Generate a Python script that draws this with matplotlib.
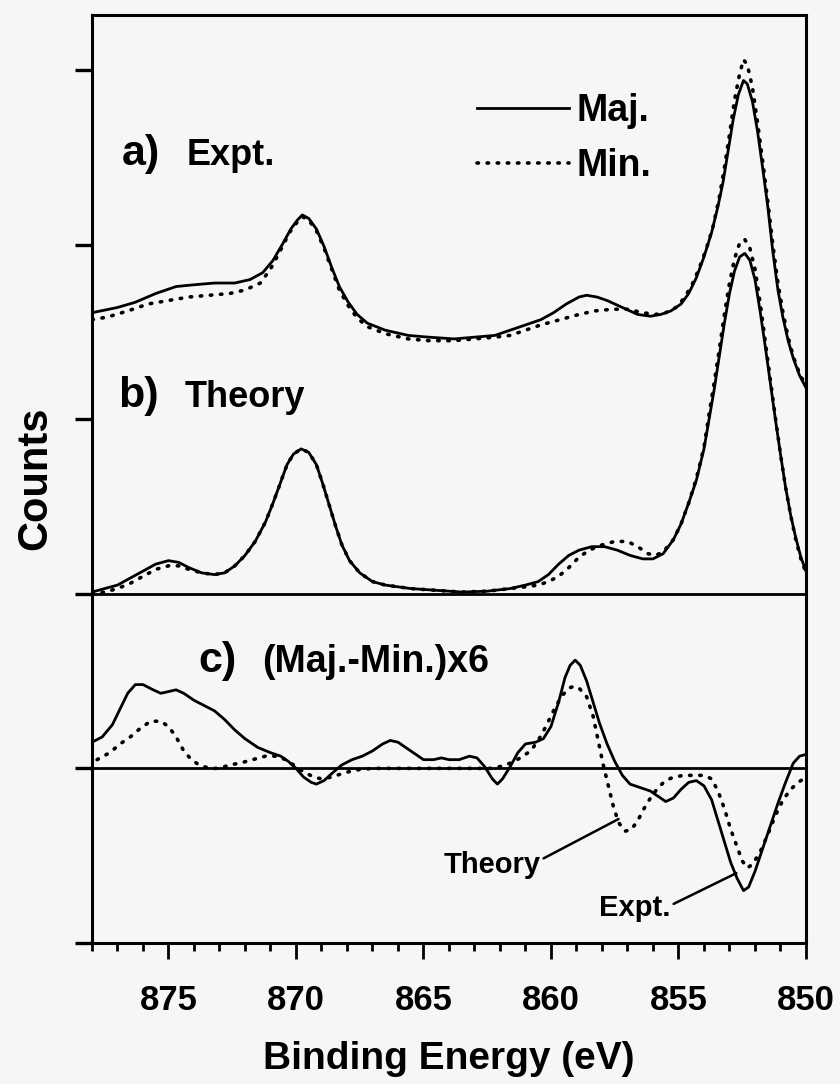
import matplotlib.pyplot as plt
from matplotlib.ticker import MultipleLocator

plt.rcParams['font.family'] = ['Liberation Sans', 'DejaVu Sans']
plt.rcParams['font.weight'] = 'bold'

# a) Expt. -- majority (solid) and minority (dotted) spectra
a_maj_e = [878.0, 877.0, 876.3, 875.5, 874.7, 874.0, 873.2, 872.4, 871.8, 871.3, 870.9, 870.5, 870.2,
           869.95, 869.75, 869.5, 869.2, 868.9, 868.6, 868.3, 867.95, 867.6, 867.2, 866.5, 865.6, 864.8,
           863.8, 863.0, 862.2, 861.6, 861.0, 860.4, 859.9, 859.4, 858.9, 858.6, 858.2, 857.8, 857.2,
           856.6, 856.1, 855.7, 855.3, 854.9, 854.6, 854.3, 854.0, 853.7, 853.45, 853.25, 853.05, 852.85,
           852.65, 852.45, 852.3, 852.1, 851.9, 851.7, 851.5, 851.3, 851.1, 850.9, 850.7, 850.5, 850.25, 850.0]
a_maj = [2.61, 2.64, 2.67, 2.72, 2.76, 2.77, 2.78, 2.78, 2.80, 2.84, 2.91, 3.01, 3.09,
         3.14, 3.17, 3.15, 3.09, 2.99, 2.87, 2.76, 2.67, 2.60, 2.55, 2.51, 2.48, 2.47,
         2.46, 2.47, 2.48, 2.51, 2.54, 2.57, 2.61, 2.66, 2.70, 2.71, 2.70, 2.68, 2.64,
         2.60, 2.59, 2.60, 2.62, 2.66, 2.72, 2.81, 2.93, 3.07, 3.22, 3.36, 3.54, 3.72,
         3.86, 3.94, 3.92, 3.82, 3.65, 3.44, 3.22, 2.96, 2.74, 2.58, 2.45, 2.35, 2.25, 2.18]

a_min_e = [878.0, 877.4, 876.6, 875.8, 875.0, 874.2, 873.4, 872.6, 872.0, 871.4, 871.0, 870.6, 870.25,
           869.95, 869.75, 869.5, 869.2, 868.9, 868.6, 868.3, 867.95, 867.6, 867.2, 866.5, 865.6, 864.8,
           863.8, 863.0, 862.2, 861.6, 861.0, 860.4, 859.9, 859.4, 858.9, 858.3, 857.6, 857.0, 856.4,
           855.9, 855.5, 855.1, 854.8, 854.5, 854.2, 853.9, 853.65, 853.4, 853.2, 853.0, 852.8, 852.6,
           852.45, 852.3, 852.1, 851.9, 851.7, 851.5, 851.3, 851.1, 850.9, 850.7, 850.5, 850.25, 850.0]
a_min = [2.57, 2.585, 2.62, 2.66, 2.68, 2.70, 2.71, 2.72, 2.74, 2.78, 2.86, 2.97, 3.07,
         3.13, 3.16, 3.14, 3.08, 2.98, 2.86, 2.74, 2.65, 2.58, 2.53, 2.49, 2.46, 2.45,
         2.45, 2.46, 2.47, 2.48, 2.51, 2.54, 2.56, 2.58, 2.60, 2.62, 2.63, 2.63, 2.61,
         2.60, 2.61, 2.64, 2.69, 2.76, 2.86, 2.98, 3.10, 3.27, 3.44, 3.63, 3.83, 3.98,
         4.06, 4.03, 3.90, 3.70, 3.48, 3.25, 3.00, 2.78, 2.61, 2.47, 2.36, 2.26, 2.19]

# b) Theory
b_maj_e = [878.0, 877.5, 877.0, 876.5, 876.0, 875.5, 875.0, 874.6, 874.2, 873.7, 873.2, 872.8, 872.4,
           872.0, 871.6, 871.2, 870.9, 870.6, 870.35, 870.1, 869.8, 869.5, 869.2, 868.95, 868.7, 868.45,
           868.2, 867.9, 867.5, 867.0, 866.5, 865.5, 864.5, 863.5, 862.5, 861.6, 861.0, 860.5, 860.1,
           859.7, 859.3, 858.9, 858.4, 857.9, 857.4, 856.9, 856.4, 856.0, 855.6, 855.2, 854.9, 854.6,
           854.3, 854.0, 853.8, 853.6, 853.4, 853.2, 853.0, 852.8, 852.6, 852.4, 852.2, 852.0, 851.8,
           851.6, 851.4, 851.2, 851.0, 850.8, 850.6, 850.4, 850.2, 850.0]
b_maj = [1.01, 1.03, 1.05, 1.09, 1.13, 1.17, 1.19, 1.18, 1.15, 1.12, 1.11, 1.12, 1.16,
         1.22, 1.30, 1.41, 1.52, 1.64, 1.74, 1.80, 1.83, 1.81, 1.74, 1.63, 1.51, 1.39,
         1.28, 1.19, 1.12, 1.07, 1.05, 1.03, 1.02, 1.01, 1.015, 1.03, 1.05, 1.07, 1.11,
         1.17, 1.22, 1.25, 1.27, 1.27, 1.25, 1.22, 1.20, 1.20, 1.23, 1.31, 1.40, 1.52,
         1.65, 1.83, 2.00, 2.17, 2.36, 2.55, 2.72, 2.85, 2.93, 2.95, 2.91, 2.80, 2.62,
         2.42, 2.21, 2.00, 1.80, 1.61, 1.45, 1.32, 1.21, 1.13]

b_min_e = [878.0, 877.5, 877.0, 876.5, 876.0, 875.5, 875.0, 874.6, 874.2, 873.7, 873.2, 872.8, 872.4,
           872.0, 871.6, 871.2, 870.9, 870.6, 870.35, 870.1, 869.8, 869.5, 869.2, 868.95, 868.7, 868.45,
           868.2, 867.9, 867.5, 867.0, 866.5, 865.5, 864.5, 863.5, 862.5, 861.6, 861.0, 860.5, 860.1,
           859.7, 859.3, 858.9, 858.5, 858.0, 857.5, 857.0, 856.6, 856.2, 855.9, 855.6, 855.2, 854.9,
           854.6, 854.3, 854.0, 853.8, 853.6, 853.4, 853.2, 853.0, 852.8, 852.6, 852.4, 852.2, 852.0,
           851.8, 851.6, 851.4, 851.2, 851.0, 850.8, 850.6, 850.4, 850.2, 850.0]
b_min = [1.00, 1.01, 1.03, 1.06, 1.10, 1.14, 1.16, 1.16, 1.14, 1.12, 1.11, 1.12, 1.16,
         1.22, 1.30, 1.41, 1.52, 1.64, 1.74, 1.80, 1.83, 1.81, 1.74, 1.63, 1.51, 1.39,
         1.28, 1.19, 1.12, 1.07, 1.05, 1.03, 1.02, 1.01, 1.015, 1.03, 1.04, 1.05, 1.07,
         1.10, 1.15, 1.21, 1.25, 1.28, 1.30, 1.30, 1.27, 1.23, 1.22, 1.24, 1.31, 1.40,
         1.52, 1.66, 1.84, 2.03, 2.21, 2.40, 2.60, 2.78, 2.92, 3.01, 3.03, 2.98, 2.86,
         2.67, 2.45, 2.23, 2.01, 1.80, 1.61, 1.45, 1.31, 1.20, 1.12]

# c) (Maj.-Min.)x6, experiment (solid) and theory (dotted)
c_expt_e = [878.0, 877.6, 877.2, 876.9, 876.6, 876.3, 876.0, 875.6, 875.3, 875.0, 874.7, 874.4, 874.0,
            873.6, 873.2, 872.8, 872.4, 872.0, 871.5, 871.0, 870.6, 870.3, 870.0, 869.7, 869.4, 869.2,
            868.9, 868.6, 868.2, 867.8, 867.4, 867.0, 866.6, 866.3, 866.0, 865.7, 865.3, 865.0, 864.6,
            864.3, 864.0, 863.6, 863.2, 862.9, 862.6, 862.3, 862.1, 861.9, 861.6, 861.3, 861.0, 860.6,
            860.3, 860.0, 859.7, 859.45, 859.25, 859.05, 858.85, 858.6, 858.35, 858.1, 857.8, 857.5,
            857.2, 856.9, 856.5, 856.1, 855.8, 855.5, 855.2, 854.9, 854.6, 854.3, 854.0, 853.7, 853.45,
            853.2, 852.95, 852.7, 852.45, 852.25, 852.0, 851.7, 851.4, 851.1, 850.8, 850.5, 850.25, 850.0]
c_expt = [0.15, 0.18, 0.25, 0.34, 0.43, 0.48, 0.48, 0.45, 0.43, 0.44, 0.45, 0.43, 0.39,
          0.36, 0.33, 0.28, 0.22, 0.17, 0.12, 0.09, 0.07, 0.04, 0.0, -0.05, -0.08, -0.09,
          -0.07, -0.03, 0.02, 0.05, 0.07, 0.10, 0.14, 0.16, 0.15, 0.12, 0.08, 0.05, 0.05,
          0.06, 0.05, 0.05, 0.07, 0.06, 0.01, -0.06, -0.09, -0.06, 0.01, 0.09, 0.14, 0.15,
          0.17, 0.24, 0.38, 0.52, 0.59, 0.62, 0.59, 0.50, 0.38, 0.26, 0.14, 0.04,
          -0.04, -0.09, -0.11, -0.13, -0.16, -0.19, -0.17, -0.12, -0.08, -0.07, -0.10, -0.18, -0.30,
          -0.42, -0.54, -0.63, -0.70, -0.68, -0.59, -0.46, -0.33, -0.20, -0.08, 0.03, 0.07, 0.08]

c_theo_e = [877.8, 877.3, 876.9, 876.5, 876.1, 875.7, 875.3, 875.0, 874.7, 874.4, 874.1, 873.8, 873.4,
            873.0, 872.6, 872.2, 871.7, 871.2, 870.8, 870.4, 870.1, 869.7, 869.3, 869.0, 868.6, 868.2,
            867.7, 867.0, 866.0, 865.0, 864.0, 863.0, 862.4, 862.0, 861.6, 861.2, 860.8, 860.5, 860.2,
            859.9, 859.6, 859.3, 859.1, 858.9, 858.6, 858.35, 858.15, 857.95, 857.75, 857.55, 857.35,
            857.1, 856.85, 856.6, 856.35, 856.1, 855.8, 855.5, 855.2, 854.8, 854.4, 854.0, 853.7, 853.45,
            853.2, 852.95, 852.7, 852.5, 852.3, 852.1, 851.8, 851.5, 851.2, 850.9, 850.6, 850.3, 850.1]
c_theo = [0.05, 0.09, 0.14, 0.18, 0.23, 0.27, 0.27, 0.24, 0.18, 0.10, 0.05, 0.02, 0.0,
          0.0, 0.02, 0.03, 0.05, 0.07, 0.07, 0.05, 0.02, -0.02, -0.05, -0.06, -0.05, -0.03,
          -0.01, 0.0, 0.0, 0.0, 0.0, 0.0, 0.0, 0.01, 0.03, 0.06, 0.10, 0.16, 0.24,
          0.33, 0.41, 0.46, 0.47, 0.46, 0.41, 0.30, 0.16, 0.02, -0.10, -0.22, -0.31,
          -0.36, -0.35, -0.30, -0.23, -0.17, -0.11, -0.07, -0.05, -0.04, -0.04, -0.04, -0.06, -0.13,
          -0.23, -0.35, -0.45, -0.53, -0.57, -0.55, -0.48, -0.38, -0.27, -0.18, -0.12, -0.08, -0.06]

x_ticks = [875, 870, 865, 860, 855, 850]
y_ticks = [-1, 0, 1, 2, 3, 4]

bg = '#f6f6f6'
dots = (0, (0.4, 2.4))

fig = plt.figure(figsize=(8.4, 10.84), dpi=100, facecolor=bg)
ax = fig.add_axes([0.1095, 0.1301, 0.85, 0.8565], facecolor=bg)

ax.plot(a_maj_e, a_maj, color='black', lw=2, label='Maj.')
ax.plot(a_min_e, a_min, color='black', lw=2.6, ls=dots, dash_capstyle='round', label='Min.')
ax.plot(b_maj_e, b_maj, color='black', lw=2)
ax.plot(b_min_e, b_min, color='black', lw=2.6, ls=dots, dash_capstyle='round')
ax.plot(c_expt_e, c_expt, color='black', lw=2)
ax.plot(c_theo_e, c_theo, color='black', lw=2.6, ls=dots, dash_capstyle='round')

ax.axhline(1, color='black', lw=2)
ax.axhline(0, color='black', lw=2)

ax.set_xlim(878, 850)
ax.set_ylim(-1.0, 4.318)
ax.set_xticks(x_ticks)
ax.xaxis.set_minor_locator(MultipleLocator(1))
ax.set_yticks(y_ticks)
ax.tick_params(axis='x', which='major', direction='out', length=11.5, width=2, labelsize=25, pad=18)
ax.tick_params(axis='x', which='minor', direction='out', length=6, width=2)
ax.tick_params(axis='y', direction='out', length=12, width=2.4, labelleft=False)
for s in ax.spines.values():
    s.set_linewidth(2.2)

ax.set_xlabel('Binding Energy (eV)', fontsize=28, fontweight='bold')
ax.xaxis.set_label_coords(0.5, -0.106)
ax.set_ylabel('Counts', fontsize=30, fontweight='bold')
ax.yaxis.set_label_coords(-0.052, 0.5)

# panel labels
ax.text(876.82, 3.456, 'a)', fontsize=31, va='baseline')
ax.text(874.29, 3.456, 'Expt.', fontsize=26, va='baseline')
ax.text(876.98, 2.07, 'b)', fontsize=31, va='baseline')
ax.text(874.36, 2.07, 'Theory', fontsize=26, va='baseline')
ax.text(873.84, 0.551, 'c)', fontsize=31, va='baseline')
ax.text(871.31, 0.551, '(Maj.-Min.)x6', fontsize=27, va='baseline')

ax.annotate('Theory', xy=(857.35, -0.29), xytext=(860.4, -0.556), fontsize=21,
            ha='right', va='center',
            arrowprops=dict(arrowstyle='-', color='black', lw=1.8, shrinkA=0, shrinkB=0, relpos=(1.0, 0.7)))
ax.annotate('Expt.', xy=(852.73, -0.60), xytext=(855.3, -0.80), fontsize=21,
            ha='right', va='center',
            arrowprops=dict(arrowstyle='-', color='black', lw=1.8, shrinkA=0, shrinkB=0, relpos=(1.0, 0.6)))

ax.legend(loc='upper left', bbox_to_anchor=(0.539, 0.915), frameon=False, fontsize=27,
          handlelength=2.45, handletextpad=0.2, labelspacing=0.5, borderpad=0, borderaxespad=0)

plt.savefig('out.png', dpi=100, facecolor=bg)
